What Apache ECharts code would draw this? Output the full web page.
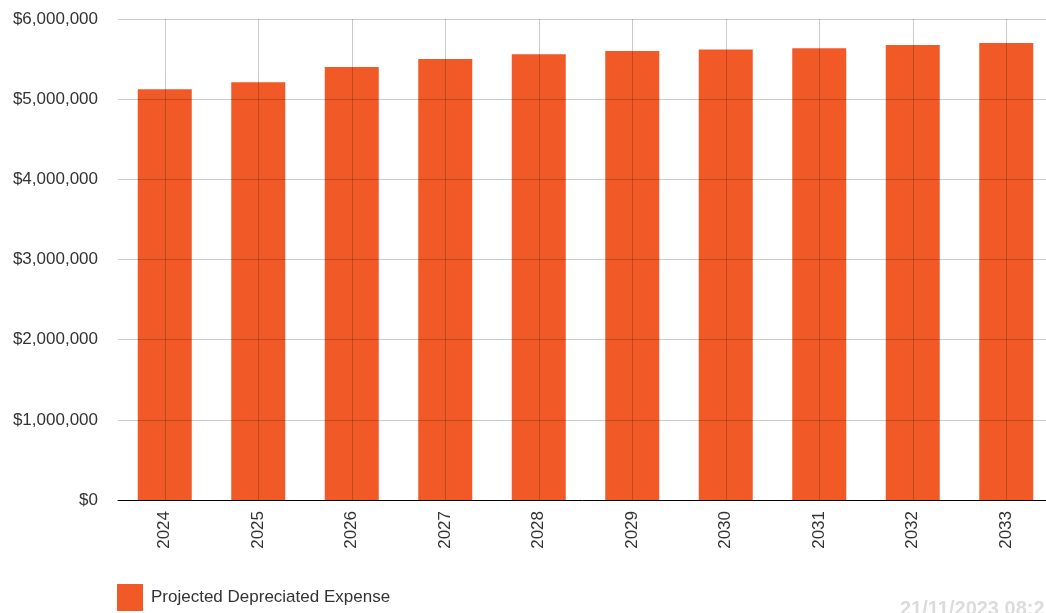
<!DOCTYPE html>
<html>
<head>
<meta charset="utf-8">
<script src="https://cdn.jsdelivr.net/npm/echarts@6/dist/echarts.min.js"></script>
<style>
  html, body { margin: 0; padding: 0; background: #fff; }
  #chart { width: 1046px; height: 613px; }
</style>
</head>
<body>
<div id="chart"></div>
<script>
// data
var years = ['2024', '2025', '2026', '2027', '2028', '2029', '2030', '2031', '2032', '2033'];
var depreciatedExpense = [5125000, 5210000, 5400000, 5500000, 5560000, 5600000, 5620000, 5635000, 5675000, 5700000];
var seriesName = 'Projected Depreciated Expense';
var stamp = '21/11/2023 08:2';

var font = 'Arial, "Liberation Sans", sans-serif';
var gridColor = 'rgba(0,0,0,0.2)';

var myChart = echarts.init(document.getElementById('chart'));
var option = {
  animation: false,
  textStyle: { fontFamily: font },
  grid: { left: 118, right: -7, top: 19, bottom: 113, containLabel: false, outerBoundsMode: 'none' },
  legend: {
    left: 112,
    top: 579,
    icon: 'rect',
    itemWidth: 26,
    itemHeight: 27,
    itemGap: 10,
    textStyle: { fontSize: 17, color: '#333', fontFamily: font, padding: [0, 0, 0, 3] },
    data: [seriesName]
  },
  xAxis: {
    type: 'category',
    data: years,
    z: 3,
    axisLine: { lineStyle: { color: '#000', width: 1 } },
    axisTick: { alignWithLabel: true, length: 6, lineStyle: { color: '#000' } },
    axisLabel: { rotate: 90, fontSize: 17, color: '#333', margin: 11 },
    splitLine: { show: true, alignWithLabel: true, lineStyle: { color: gridColor } }
  },
  yAxis: {
    type: 'value',
    min: 0,
    max: 6000000,
    interval: 1000000,
    z: 3,
    axisLine: { show: false },
    axisTick: { show: false },
    axisLabel: {
      fontSize: 17,
      color: '#333',
      margin: 20,
      formatter: function (v) { return '$' + v.toLocaleString('en-US'); }
    },
    splitLine: { lineStyle: { color: gridColor } }
  },
  graphic: [{
    type: 'text',
    left: 900,
    top: 599,
    style: { text: stamp, fill: '#dcdcdc', font: 'bold 20px ' + font }
  }],
  series: [{
    name: seriesName,
    type: 'bar',
    barWidth: 54,
    itemStyle: { color: '#f15a27' },
    data: depreciatedExpense
  }]
};
myChart.setOption(option);
</script>
</body>
</html>
